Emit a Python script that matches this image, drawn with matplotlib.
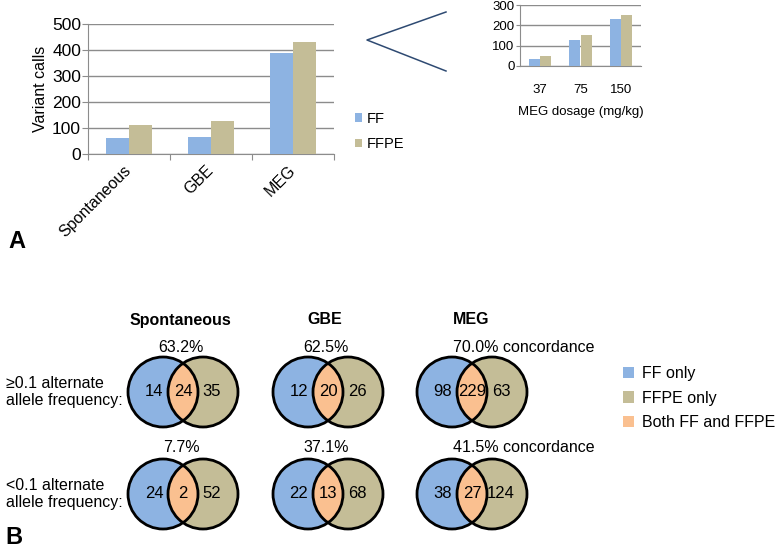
import matplotlib
matplotlib.use("Agg")
import matplotlib.pyplot as plt
from matplotlib.patches import Circle, Patch
import numpy as np

plt.rcParams['font.family'] = ['Liberation Sans', 'DejaVu Sans']

# panel A: variant calls per treatment group
groups = ["Spontaneous", "GBE", "MEG"]
ff_calls = [62, 67, 390]
ffpe_calls = [112, 127, 432]

# panel A inset: MEG dose series
doses = ["37", "75", "150"]
ff_dose = [35, 127, 230]
ffpe_dose = [48, 152, 250]

# panel B: venn counts (FF only, both, FFPE only)
venn_titles = ["Spontaneous", "GBE", "MEG"]
row_labels = ["\u22650.1 alternate\nallele frequency:",
              "<0.1 alternate\nallele frequency:"]
ff_only_hi = [14, 12, 98]
both_hi = [24, 20, 229]
ffpe_only_hi = [35, 26, 63]
ff_only_lo = [24, 22, 38]
both_lo = [2, 13, 27]
ffpe_only_lo = [52, 68, 124]
venn_legend = ["FF only", "FFPE only", "Both FF and FFPE"]

blue = "#8db3e2"
tan = "#c4bd97"
orange = "#fac090"
grid = "#8c8c8c"

W, H = 777, 549
fig = plt.figure(figsize=(W / 100, H / 100), dpi=100)

# overlay in pixel units for the annotation parts
ov = fig.add_axes([0, 0, 1, 1])
ov.set_xlim(0, W)
ov.set_ylim(H, 0)
ov.axis("off")


def px_axes(l, t, r, b):
    return fig.add_axes([l / W, 1 - b / H, (r - l) / W, (b - t) / H])


def bar_panel(ax, cats, a, b, ymax, step, fs):
    x = np.arange(len(cats))
    w = 0.28
    ax.bar(x - w / 2, a, w, color=blue, label="FF", zorder=3)
    ax.bar(x + w / 2, b, w, color=tan, label="FFPE", zorder=3)
    ax.set_xlim(-0.5, len(cats) - 0.5)
    ax.set_ylim(0, ymax)
    ax.set_yticks(np.arange(0, ymax + 1, step))
    ax.yaxis.grid(True, color=grid, lw=1, zorder=0)
    ax.set_axisbelow(True)
    ax.set_facecolor("none")
    for s in ["top", "right"]:
        ax.spines[s].set_visible(False)
    ax.spines["left"].set_color(grid)
    ax.spines["bottom"].set_color(grid)
    ax.tick_params(axis="y", colors=grid, labelcolor="black",
                   labelsize=fs, length=4, pad=1)
    return x


# main bar chart
ax = px_axes(88, 24, 334, 154)
x = bar_panel(ax, groups, ff_calls, ffpe_calls, 500, 100, 12.5)
ax.set_xticks(np.arange(-0.5, len(groups)))
ax.set_xticklabels([])
ax.tick_params(axis="x", which="major", colors=grid, length=4)
ax.set_xticks(x, groups, minor=True)
ax.tick_params(axis="x", which="minor", length=0, pad=10, labelsize=11.5)
for lab in ax.get_xticklabels(minor=True):
    lab.set_rotation(45)
    lab.set_ha("right")
    lab.set_va("center")
    lab.set_rotation_mode("anchor")
ax.set_ylabel("Variant calls", fontsize=11.5, labelpad=3)
ax.legend(loc="center left", bbox_to_anchor=(355 / W, 1 - 131.5 / H),
          bbox_transform=fig.transFigure, frameon=False,
          handlelength=0.5, handleheight=0.5, handletextpad=0.3,
          labelspacing=0.8, fontsize=10.5, borderpad=0, borderaxespad=0)

# inset: MEG dosage
ax2 = px_axes(520, 5, 641, 66)
x2 = bar_panel(ax2, doses, ff_dose, ffpe_dose, 300, 100, 9.5)
ax2.set_xticks(x2, doses)
ax2.tick_params(axis="x", length=0, pad=13, labelsize=9.5)
ax2.tick_params(axis="y", length=3)
ax2.set_xlabel("MEG dosage (mg/kg)", fontsize=9.5, labelpad=7)

# chevron pointing to the MEG bars
ov.plot([446, 367, 446], [12, 40, 71], color="#2e4a72", lw=1.1)

ov.text(8, 241, "A", fontsize=17, fontweight="bold", va="center", ha="left")
ov.text(5, 537, "B", fontsize=17, fontweight="bold", va="center", ha="left")

# venn diagrams
col_mid = [183, 328, 472]
row_y = [392, 494]
pct_y = [347, 448]
r, d = 35, 40
counts = [(ff_only_hi, both_hi, ffpe_only_hi),
          (ff_only_lo, both_lo, ffpe_only_lo)]

for i, (ffo, bo, fpo) in enumerate(counts):
    cy = row_y[i]
    ov.text(6, cy, row_labels[i], fontsize=11.5, ha="left", va="center",
            linespacing=1.15)
    for j, cx in enumerate(col_mid):
        lc, rc = (cx - d / 2, cy), (cx + d / 2, cy)
        ov.add_patch(Circle(lc, r, fc=blue, ec="none"))
        ov.add_patch(Circle(rc, r, fc=tan, ec="none"))
        lens = Circle(rc, r, fc=orange, ec="none")
        ov.add_patch(lens)
        lens.set_clip_path(Circle(lc, r, transform=ov.transData))
        ov.add_patch(Circle(lc, r, fc="none", ec="black", lw=2))
        ov.add_patch(Circle(rc, r, fc="none", ec="black", lw=2))
        for dx, v in zip([-29, 0, 29], [ffo[j], bo[j], fpo[j]]):
            ov.text(cx + dx, cy, str(v), fontsize=12, ha="center", va="center")
        pct = "{:.1f}%".format(100 * bo[j] / (ffo[j] + bo[j]))
        if j == len(col_mid) - 1:
            ov.text(cx - 19, pct_y[i], pct + " concordance", fontsize=11.5,
                    ha="left", va="center")
        else:
            ov.text(cx - 2, pct_y[i], pct, fontsize=11.5, ha="center",
                    va="center")

for j, cx in enumerate(col_mid):
    if j == len(col_mid) - 1:
        ov.text(cx - 19, 320, venn_titles[j], fontsize=11.5,
                fontweight="bold", ha="left", va="center")
    else:
        ov.text(cx - 3, 320, venn_titles[j], fontsize=11.5,
                fontweight="bold", ha="center", va="center")

handles = [Patch(fc=c, ec="none") for c in [blue, tan, orange]]
ov.legend(handles, venn_legend, loc="center left",
          bbox_to_anchor=(623 / W, 1 - 398 / H),
          bbox_transform=fig.transFigure, frameon=False,
          handlelength=0.7, handleheight=0.7, handletextpad=0.5,
          labelspacing=0.6, fontsize=11.5, borderpad=0, borderaxespad=0)

plt.savefig("out.png", dpi=100)
